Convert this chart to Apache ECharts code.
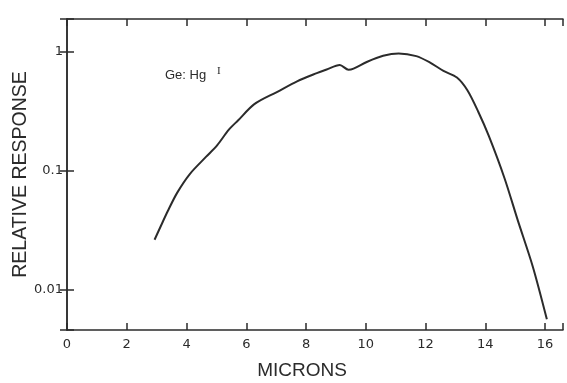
<!DOCTYPE html>
<html>
<head>
<meta charset="utf-8">
<script src="https://cdn.jsdelivr.net/npm/echarts@6/dist/echarts.min.js"></script>
<style>
  html, body { margin: 0; padding: 0; background: #fff; }
  #chart { width: 567px; height: 383px; }
</style>
</head>
<body>
<div id="chart"></div>
<script>
// spectral response of Ge:Hg
const microns = [2.93, 3.16, 3.37, 3.69, 4.11, 4.65, 5.03, 5.41, 5.73, 6.27, 7.04, 7.70, 8.36, 8.69,
  9.13, 9.42, 9.59, 10.05, 10.58, 11.10, 11.69, 12.14, 12.60, 13.05, 13.40, 13.76, 14.12, 14.64,
  15.09, 15.59, 16.06];
const response = [0.0264, 0.0353, 0.0458, 0.0656, 0.0939, 0.1306, 0.164, 0.220, 0.265, 0.362, 0.459, 0.562, 0.658, 0.706,
  0.769, 0.703, 0.718, 0.82, 0.92, 0.962, 0.914, 0.81, 0.687, 0.605, 0.473, 0.314, 0.195, 0.087,
  0.0382, 0.0157, 0.00569];

const xTicks = [0, 2, 4, 6, 8, 10, 12, 14, 16];
const yTicks = [0.01, 0.1, 1];
const yTickLabels = ['0.01', '0.1', '1'];

const ink = '#2b2b2b';
const font = 'Liberation Sans';
const labelFont = 'DejaVu Sans';

const xMin = 0, xMax = 16.6;
const yMin = 0.00463, yMax = 1.87;

function yLabel(v) {
  for (let i = 0; i < yTicks.length; i++) {
    if (Math.abs(Math.log10(v) - Math.log10(yTicks[i])) < 1e-6) return yTickLabels[i];
  }
  return '';
}
function xLabel(v) {
  return xTicks.indexOf(v) >= 0 ? String(v) : '';
}

const axisLine = { show: true, lineStyle: { color: ink, width: 1.5 } };
const axisTick = { show: true, inside: true, length: 7, lineStyle: { color: ink, width: 1.5 } };

let myChart = echarts.init(document.getElementById('chart'));

myChart.setOption({
  backgroundColor: '#fff',
  animation: false,
  grid: { left: 67, right: 4, top: 19, bottom: 53, containLabel: false, outerBoundsMode: 'none' },
  xAxis: [
    {
      type: 'value', min: xMin, max: xMax, interval: 2,
      name: 'MICRONS', nameLocation: 'middle', nameGap: 31, nameMoveOverlap: false,
      nameTextStyle: { color: ink, fontSize: 19, fontFamily: font, padding: [0, 26, 0, 0] },
      axisLine: axisLine, axisTick: axisTick, splitLine: { show: false },
      axisLabel: { color: ink, fontSize: 13, fontFamily: labelFont, margin: 8, formatter: xLabel }
    },
    {
      type: 'value', position: 'top', min: xMin, max: xMax, interval: 2,
      axisLine: axisLine, axisTick: axisTick, splitLine: { show: false },
      axisLabel: { show: false }
    }
  ],
  yAxis: [
    {
      type: 'log', logBase: 10, min: yMin, max: yMax,
      name: 'RELATIVE RESPONSE', nameLocation: 'middle', nameGap: 36, nameRotate: 90, nameMoveOverlap: false,
      nameTextStyle: { color: ink, fontSize: 19.5, fontFamily: font },
      axisLine: axisLine, axisTick: axisTick, splitLine: { show: false },
      axisLabel: { color: ink, fontSize: 13, fontFamily: labelFont, margin: 4, formatter: yLabel }
    },
    {
      type: 'log', logBase: 10, min: yMin, max: yMax, position: 'right',
      axisLine: axisLine, axisTick: axisTick, splitLine: { show: false },
      axisLabel: { show: false }
    }
  ],
  graphic: [
    { type: 'text', left: 165, top: 69, style: { text: 'Ge: Hg', fill: ink, font: '13px "Liberation Sans"' } },
    { type: 'text', left: 217, top: 66, style: { text: 'I', fill: ink, font: '11px "Liberation Serif"' } }
  ],
  series: [
    {
      type: 'line',
      xAxisIndex: 0, yAxisIndex: 0,
      data: microns.map((m, i) => [m, response[i]]),
      smooth: 0.3,
      showSymbol: false,
      symbol: 'none',
      lineStyle: { color: ink, width: 2 }
    }
  ]
});
</script>
</body>
</html>
